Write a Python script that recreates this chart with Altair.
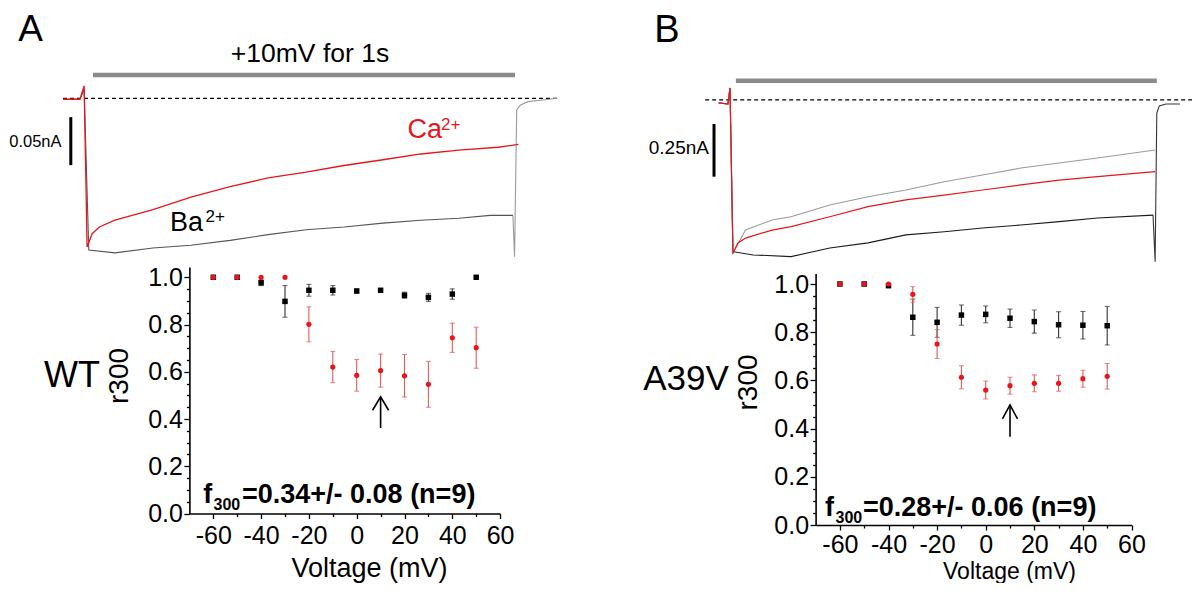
import altair as alt
import pandas as pd

OX = OY = 8
W, H = 1184, 575
FONT = "Liberation Sans"
RED = "#e8161b"
RED_BAR = "#e35a5a"

# ---------------- data: r300 vs voltage ----------------
volt = [-60, -50, -40, -30, -20, -10, 0, 10, 20, 30, 40, 50]
wt_ba = [1.0, 1.0, 0.977, 0.898, 0.945, 0.945, 0.942, 0.945, 0.924, 0.915, 0.929, 1.0]
wt_ba_err = [0, 0, 0.012, 0.067, 0.025, 0.020, 0.008, 0.006, 0.013, 0.017, 0.022, 0]
wt_ca = [1.0, 1.0, 1.0, 1.0, 0.801, 0.620, 0.585, 0.605, 0.583, 0.547, 0.744, 0.702]
wt_ca_err = [0, 0, 0, 0, 0.074, 0.066, 0.067, 0.070, 0.090, 0.097, 0.062, 0.087]
a39_ba = [1.0, 1.0, 0.993, 0.862, 0.841, 0.871, 0.874, 0.858, 0.844, 0.831, 0.829, 0.827]
a39_ba_err = [0, 0, 0.005, 0.075, 0.062, 0.042, 0.035, 0.038, 0.048, 0.054, 0.057, 0.080]
a39_ca = [1.0, 1.0, 1.0, 0.957, 0.751, 0.613, 0.560, 0.578, 0.588, 0.588, 0.607, 0.617]
a39_ca_err = [0, 0, 0, 0.032, 0.060, 0.048, 0.037, 0.035, 0.035, 0.033, 0.035, 0.053]

x_major = [-60, -40, -20, 0, 20, 40, 60]
x_minor = [-50, -30, -10, 10, 30, 50]
y_major = [0.0, 0.2, 0.4, 0.6, 0.8, 1.0]
y_minor = [0.05, 0.1, 0.15, 0.25, 0.3, 0.35, 0.45, 0.5, 0.55, 0.65, 0.7, 0.75, 0.85, 0.9, 0.95]

# arrows marking +10 mV (voltage, r300)
arrowA_shaft = [0.362, 0.494]
arrowA_head_x = [6.65, 10, 13.35]
arrowA_head_y = [0.437, 0.494, 0.437]
arrowB_shaft = [0.366, 0.498]
arrowB_head_x = [6.9, 10, 13.1]
arrowB_head_y = [0.440, 0.498, 0.440]

# ---------------- data: current traces (time ms, current nA) ----------------
A_ca_t = [-71, -31, -21, -14, -2, 15, 52, 142, 232, 325, 415, 505, 595, 687, 777, 867, 960, 1008]
A_ca_i = [-0.001, -0.001, 0.013, -0.155, -0.141, -0.134, -0.127, -0.116, -0.103, -0.092,
          -0.083, -0.077, -0.070, -0.064, -0.058, -0.054, -0.051, -0.048]
A_ba_t = [-71, -31, -21, -10, 52, 142, 232, 325, 415, 505, 595, 687, 777, 867, 941, 995]
A_ba_i = [-0.001, -0.001, 0.009, -0.158, -0.161, -0.156, -0.153, -0.148, -0.142, -0.137,
          -0.134, -0.130, -0.127, -0.125, -0.122, -0.122]
A_tail_t = [995, 999, 1004, 1013, 1031, 1066, 1100]
A_tail_i = [-0.122, -0.165, -0.012, -0.007, -0.0035, -0.0018, 0.0]

B_gray_t = [-41, -19, -14, -7, 23, 86, 131, 223, 314, 404, 495, 586, 677, 768, 859, 996]
B_gray_i = [-0.014, -0.019, 0.057, -0.726, -0.617, -0.569, -0.554, -0.498, -0.459, -0.427,
            -0.388, -0.356, -0.323, -0.299, -0.275, -0.237]
B_red_t = [-41, -19, -14, -7, 5, 23, 86, 131, 223, 314, 404, 495, 586, 677, 768, 859, 996]
B_red_i = [-0.014, -0.019, 0.057, -0.726, -0.678, -0.655, -0.617, -0.601, -0.554, -0.506,
           -0.474, -0.451, -0.427, -0.403, -0.380, -0.364, -0.340]
B_blk_t = [-41, -19, -14, -7, -5, 41, 131, 223, 314, 404, 495, 586, 677, 768, 859, 991]
B_blk_i = [-0.014, -0.019, 0.057, -0.726, -0.720, -0.735, -0.743, -0.702, -0.678, -0.640,
           -0.625, -0.607, -0.593, -0.577, -0.560, -0.546]
B_tail_t = [991, 996, 1000, 1006, 1022, 1055]
B_tail_i = [-0.546, -0.767, -0.062, -0.028, -0.019, -0.019]

# step bar (ms), baseline extent (ms), scale bars (nA)
step = [0, 1000]
baseA = [-71, 1104]
baseB = [-73, 1095]
sbarA_t, sbarA_i = -52.6, [-0.0196, -0.0696]
sbarB_t, sbarB_i = -52.0, [-0.1139, -0.3639]


# ---------------- geometry (page pixels -> chart pixels) ----------------
def rx(a, b):
    return [a - OX, b - OX]


def ry(a, b):
    return [a - OY, b - OY]


GEOM = {
    "sA": ([-70, 60], rx(189.4, 500.1), [0, 1.044], ry(513.5, 266.9)),
    "sB": ([-70, 60], rx(815.6, 1131.5), [0, 1.044], ry(525.0, 273.4)),
    "tA": ([0, 1000], rx(93, 515), [-0.2, 0.05], ry(290.3, 50.3)),
    "tB": ([0, 1000], rx(735.9, 1156.8), [-1.0, 0.2], ry(310.8, 57.8)),
}


def scl(panel):
    xd, xr, yd, yr = GEOM[panel]
    return (alt.Scale(domain=xd, range=xr, nice=False, zero=False),
            alt.Scale(domain=yd, range=yr, nice=False, zero=False))


def enc(panel, xf, yf, y2f=None, x2f=None, xaxis=None, yaxis=None):
    xs, ys = scl(panel)
    e = dict(x=alt.X(xf, scale=xs, axis=xaxis), y=alt.Y(yf, scale=ys, axis=yaxis))
    if y2f:
        e["y2"] = alt.Y2(y2f)
    if x2f:
        e["x2"] = alt.X2(x2f)
    return e


layers = []


def line(panel, xs, ys, color, width=1.2):
    df = pd.DataFrame({"x": xs, "y": ys, "k": list(range(len(xs)))})
    layers.append(alt.Chart(df).mark_line(color=color, strokeWidth=width).encode(
        order="k:Q", **enc(panel, "x:Q", "y:Q")))


def text(t, x, y, size, color="black", align="left", baseline="alphabetic",
         weight="normal", angle=0):
    df = pd.DataFrame({"a": [0]})
    layers.append(alt.Chart(df).mark_text(
        text=t, x=x - OX, y=y - OY, fontSize=size, font=FONT, color=color,
        align=align, baseline=baseline, fontWeight=weight, angle=angle))


def scatter(panel, vals, errs, color, bar_color, shape):
    df = pd.DataFrame({"v": volt, "r": vals, "lo": [a - b for a, b in zip(vals, errs)],
                       "hi": [a + b for a, b in zip(vals, errs)], "e": errs})
    dfe = df[df.e > 0]
    layers.append(alt.Chart(dfe).mark_rule(color=bar_color, strokeWidth=1.1).encode(
        **enc(panel, "v:Q", "lo:Q", y2f="hi")))
    for f in ["lo", "hi"]:
        layers.append(alt.Chart(dfe).mark_tick(color=bar_color, orient="horizontal",
                                               size=5, thickness=1.1).encode(
            **enc(panel, "v:Q", f + ":Q")))
    if shape == "square":
        m = alt.Chart(df).mark_square(size=30, color=color, opacity=1)
    else:
        m = alt.Chart(df).mark_circle(size=27, color=color, opacity=1)
    layers.append(m.encode(**enc(panel, "v:Q", "r:Q")))


def axes(panel, x_axis_y, y_axis_x, xlab_pad):
    xoff = (x_axis_y - OY) - H
    yoff = -(y_axis_x - OX)
    df = pd.DataFrame({"v": [0], "r": [0.5]})
    common = dict(grid=False, title=None, ticks=True, tickColor="black", tickWidth=1.3)
    xa_major = alt.Axis(orient="bottom", offset=xoff, values=x_major, tickSize=5, domain=True,
                        domainColor="black", domainWidth=1.6, labels=True, labelFont=FONT,
                        labelFontSize=25, labelColor="black", labelBaseline="middle",
                        labelAlign="center", labelPadding=xlab_pad, labelOverlap=False,
                        labelFlush=False, labelBound=False, labelExpr="'' + datum.value",
                        **common)
    ya_major = alt.Axis(orient="left", offset=yoff, values=y_major, tickSize=5.5, domain=True,
                        domainColor="black", domainWidth=1.6, labels=True, labelFont=FONT,
                        labelFontSize=25, labelColor="black", labelBaseline="middle",
                        labelAlign="right", labelPadding=1.5, labelOverlap=False,
                        labelFlush=False, labelBound=False,
                        labelExpr="format(datum.value, '.1f')", **common)
    xa_minor = alt.Axis(orient="bottom", offset=xoff, values=x_minor, tickSize=3,
                        domain=False, labels=False, **common)
    ya_minor = alt.Axis(orient="left", offset=yoff, values=y_minor, tickSize=3,
                        domain=False, labels=False, **common)
    layers.append(alt.Chart(df).mark_point(opacity=0).encode(
        **enc(panel, "v:Q", "r:Q", xaxis=xa_major, yaxis=ya_major)))
    layers.append(alt.Chart(df).mark_point(opacity=0).encode(
        **enc(panel, "v:Q", "r:Q", xaxis=xa_minor, yaxis=ya_minor)))


def hrule(panel, x0, x1, yv, color, width, dash=None):
    df = pd.DataFrame({"x0": [x0], "x1": [x1], "y": [yv]})
    kw = dict(color=color, strokeWidth=width)
    if dash:
        kw["strokeDash"] = dash
    layers.append(alt.Chart(df).mark_rule(**kw).encode(**enc(panel, "x0:Q", "y:Q", x2f="x1")))


def vrule(panel, xv, y0, y1, color, width):
    df = pd.DataFrame({"x": [xv], "y0": [y0], "y1": [y1]})
    layers.append(alt.Chart(df).mark_rule(color=color, strokeWidth=width).encode(
        **enc(panel, "x:Q", "y0:Q", y2f="y1")))


def step_bar(panel, ypage):
    xs, ys = scl(panel)
    df = pd.DataFrame({"x0": [step[0]], "x1": [step[1]]})
    layers.append(alt.Chart(df).mark_rule(color="#8a8a8a", strokeWidth=4.5).encode(
        x=alt.X("x0:Q", scale=xs, axis=None), x2="x1:Q", y=alt.value(ypage - OY)))


# ---------------- panel A traces ----------------
text("A", 30.5, 41, 37, align="center")
text("+10mV for 1s", 310, 62, 26.5, align="center")
step_bar("tA", 75)
hrule("tA", baseA[0], baseA[1], 0, "black", 1.2, dash=[4, 3])
vrule("tA", sbarA_t, sbarA_i[0], sbarA_i[1], "black", 3)
text("0.05nA", 61.5, 146.5, 16.5, align="right")
line("tA", A_tail_t, A_tail_i, "#9a9a9a", 1.1)
line("tA", A_ba_t, A_ba_i, "#555555", 1.1)
line("tA", A_ca_t, A_ca_i, RED, 1.3)
text("Ca", 407.6, 138, 27, color=RED)
text("2+", 441, 129.5, 17, color=RED)
text("Ba", 170, 231, 27)
text("2+", 205.5, 221.5, 17)

# ---------------- panel B traces ----------------
text("B", 667, 42, 38, align="center")
step_bar("tB", 80.7)
hrule("tB", baseB[0], baseB[1], 0, "black", 1.2, dash=[4, 3])
vrule("tB", sbarB_t, sbarB_i[0], sbarB_i[1], "black", 3)
text("0.25nA", 709, 154, 19, align="right")
line("tB", B_tail_t, B_tail_i, "#333333", 1.1)
line("tB", B_blk_t, B_blk_i, "#1a1a1a", 1.1)
line("tB", B_gray_t, B_gray_i, "#9a9a9a", 1.1)
line("tB", B_red_t, B_red_i, RED, 1.2)

# ---------------- panel A scatter ----------------
axes("sA", 513.5, 189.4, 17)
scatter("sA", wt_ba, wt_ba_err, "black", "#333333", "square")
scatter("sA", wt_ca, wt_ca_err, RED, RED_BAR, "circle")
vrule("sA", 10, arrowA_shaft[0], arrowA_shaft[1], "black", 1.6)
line("sA", arrowA_head_x, arrowA_head_y, "black", 1.6)
text("WT", 72, 387, 36, align="center")
text("r300", 120, 376, 28, align="center", baseline="middle", angle=270)
text("Voltage (mV)", 369.5, 576.5, 27, align="center")
text("f", 203.3, 503, 27, weight="bold")
text("300", 213.5, 510, 16, weight="bold")
text("=0.34+/- 0.08  (n=9)", 242, 503, 27, weight="bold")

# ---------------- panel B scatter ----------------
axes("sB", 525.0, 815.6, 14.5)
scatter("sB", a39_ba, a39_ba_err, "black", "#333333", "square")
scatter("sB", a39_ca, a39_ca_err, RED, RED_BAR, "circle")
vrule("sB", 10, arrowB_shaft[0], arrowB_shaft[1], "black", 1.6)
line("sB", arrowB_head_x, arrowB_head_y, "black", 1.6)
text("A39V", 686, 390, 35, align="center")
text("r300", 748.5, 382.5, 28, align="center", baseline="middle", angle=270)
text("Voltage (mV)", 1009.5, 578.5, 23, align="center")
text("f", 825, 516, 27, weight="bold")
text("300", 835.5, 522.5, 16, weight="bold")
text("=0.28+/- 0.06  (n=9)", 863, 516, 27, weight="bold")

chart = alt.layer(*layers).resolve_scale(x="independent", y="independent").properties(
    width=W, height=H, autosize=alt.AutoSizeParams(type="none"), padding=0,
    background="white",
).configure_view(stroke=None)

chart.save("out.html", embed_options={"renderer": "svg", "actions": False})
